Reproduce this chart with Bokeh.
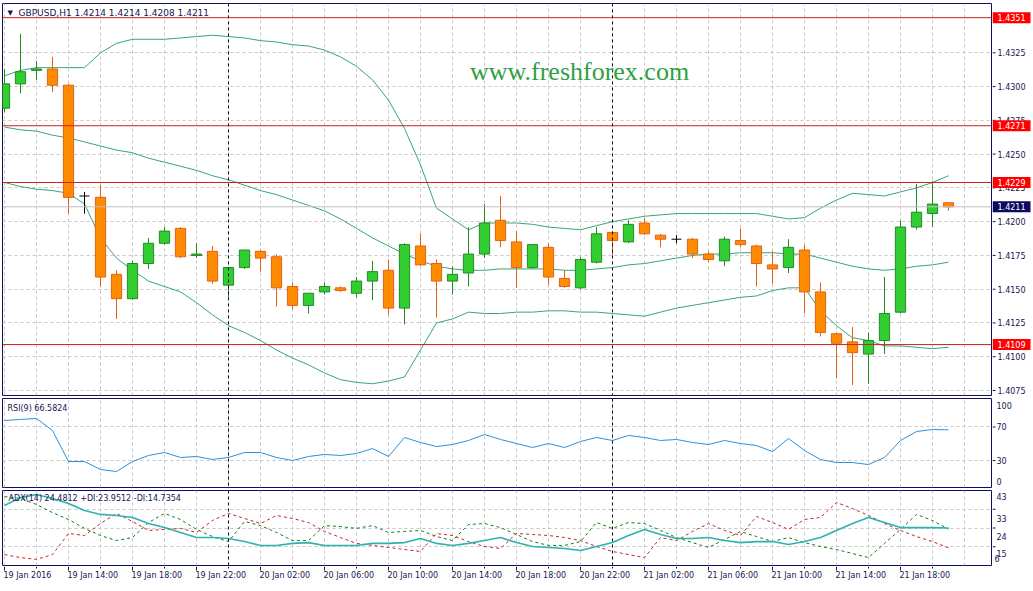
from bokeh.plotting import figure
from bokeh.models import Range1d, FixedTicker, Span, Label, ColumnDataSource
from bokeh.layouts import column, row
from bokeh.embed import file_html
from bokeh.resources import INLINE
from bokeh.core.properties import value

# ---------------- data ----------------
opens = [1.4284, 1.4302, 1.4312, 1.4313, 1.4301, 1.4219, 1.4218, 1.4161, 1.4143, 1.4169,
         1.4184, 1.4195, 1.4175, 1.4178, 1.4153, 1.4166, 1.4178, 1.4174, 1.4152, 1.4138,
         1.4148, 1.4151, 1.4147, 1.4156, 1.4164, 1.4136, 1.4182, 1.4169, 1.4156, 1.4162,
         1.4176, 1.4201, 1.4185, 1.4166, 1.4181, 1.4158, 1.4151, 1.4170, 1.4192, 1.4185,
         1.4199, 1.4190, 1.4187, 1.4187, 1.4176, 1.4171, 1.4186, 1.4182, 1.4168, 1.4166,
         1.4179, 1.4148, 1.4117, 1.4111, 1.4102, 1.4112, 1.4133, 1.4196, 1.4206, 1.4214]
highs = [1.4313, 1.4339, 1.4319, 1.4322, 1.4302, 1.4222, 1.4227, 1.4164, 1.4171, 1.4188,
         1.4196, 1.4196, 1.4184, 1.4182, 1.4166, 1.4179, 1.4179, 1.4176, 1.4155, 1.4147,
         1.4155, 1.4152, 1.4159, 1.4171, 1.4172, 1.4184, 1.4191, 1.4172, 1.4167, 1.4196,
         1.4213, 1.4219, 1.4193, 1.4183, 1.4184, 1.4164, 1.4174, 1.4196, 1.4193, 1.4201,
         1.4203, 1.4191, 1.4190, 1.4188, 1.4178, 1.4189, 1.4195, 1.4183, 1.4178, 1.4187,
         1.4183, 1.4155, 1.4118, 1.4122, 1.4118, 1.4159, 1.4201, 1.4228, 1.4230, 1.4214]
lows = [1.4281, 1.4295, 1.4305, 1.4296, 1.4206, 1.4206, 1.4152, 1.4128, 1.4142, 1.4165,
        1.4183, 1.4173, 1.4173, 1.4154, 1.4142, 1.4165, 1.4163, 1.4137, 1.4135, 1.4132,
        1.4146, 1.4148, 1.4144, 1.4142, 1.4131, 1.4124, 1.4167, 1.4129, 1.4146, 1.4152,
        1.4173, 1.4181, 1.4151, 1.4165, 1.4153, 1.4151, 1.4150, 1.4169, 1.4175, 1.4184,
        1.4190, 1.4181, 1.4184, 1.4173, 1.4170, 1.4167, 1.4181, 1.4152, 1.4154, 1.4162,
        1.4132, 1.4115, 1.4084, 1.4079, 1.4080, 1.4102, 1.4132, 1.4194, 1.4196, 1.4208]
closes = [1.4302, 1.4311, 1.4313, 1.4301, 1.4218, 1.4219, 1.4159, 1.4143, 1.4169, 1.4184,
          1.4193, 1.4174, 1.4176, 1.4156, 1.4166, 1.4179, 1.4173, 1.4151, 1.4138, 1.4147,
          1.4152, 1.4149, 1.4156, 1.4163, 1.4136, 1.4183, 1.4168, 1.4156, 1.4161, 1.4176,
          1.4199, 1.4186, 1.4166, 1.4183, 1.4159, 1.4152, 1.4172, 1.4191, 1.4186, 1.4198,
          1.4191, 1.4187, 1.4187, 1.4176, 1.4172, 1.4187, 1.4183, 1.4169, 1.4165, 1.4181,
          1.4148, 1.4118, 1.4110, 1.4103, 1.4112, 1.4132, 1.4196, 1.4207, 1.4213, 1.4211]

bb_upper = [1.4308, 1.4312, 1.4314, 1.4314, 1.4314, 1.4314, 1.4325, 1.4332, 1.4335, 1.4335,
            1.4335, 1.4336, 1.4337, 1.4338, 1.4337, 1.4336, 1.4334, 1.4333, 1.4331, 1.4330,
            1.4327, 1.4322, 1.4315, 1.4305, 1.4290, 1.4269, 1.4242, 1.4210, 1.4202, 1.4194,
            1.4199, 1.4199, 1.4199, 1.4198, 1.4196, 1.4195, 1.4194, 1.4197, 1.4200, 1.4202,
            1.4204, 1.4205, 1.4206, 1.4206, 1.4206, 1.4206, 1.4206, 1.4206, 1.4204, 1.4202,
            1.4203, 1.4210, 1.4216, 1.4221, 1.4220, 1.4219, 1.4222, 1.4225, 1.4229, 1.4234]
bb_middle = [1.4270, 1.4268, 1.4267, 1.4264, 1.4262, 1.4259, 1.4256, 1.4253, 1.4251, 1.4247,
             1.4244, 1.4241, 1.4238, 1.4234, 1.4231, 1.4227, 1.4223, 1.4220, 1.4216, 1.4212,
             1.4208, 1.4202, 1.4195, 1.4188, 1.4182, 1.4176, 1.4171, 1.4167, 1.4165, 1.4164,
             1.4164, 1.4165, 1.4165, 1.4165, 1.4165, 1.4164, 1.4164, 1.4165, 1.4166, 1.4168,
             1.4169, 1.4171, 1.4173, 1.4175, 1.4176, 1.4176, 1.4177, 1.4177, 1.4177, 1.4176,
             1.4176, 1.4173, 1.4170, 1.4167, 1.4165, 1.4164, 1.4165, 1.4167, 1.4168, 1.4170]
bb_lower = [1.4229, 1.4226, 1.4224, 1.4223, 1.4221, 1.4213, 1.4188, 1.4173, 1.4164, 1.4156,
            1.4152, 1.4148, 1.4140, 1.4131, 1.4123, 1.4118, 1.4112, 1.4105, 1.4099, 1.4094,
            1.4088, 1.4083, 1.4081, 1.4080, 1.4082, 1.4085, 1.4105, 1.4125, 1.4128, 1.4133,
            1.4132, 1.4132, 1.4133, 1.4133, 1.4134, 1.4134, 1.4133, 1.4133, 1.4132, 1.4131,
            1.4130, 1.4133, 1.4136, 1.4138, 1.4140, 1.4142, 1.4144, 1.4145, 1.4149, 1.4151,
            1.4151, 1.4134, 1.4123, 1.4114, 1.4112, 1.4108, 1.4108, 1.4107, 1.4106, 1.4107]

rsi = [77.8, 79.0, 80.1, 65.8, 28.8, 28.8, 19.3, 16.9, 28.8, 36.0,
       39.6, 33.6, 34.8, 31.2, 33.6, 39.6, 39.6, 33.6, 30.0, 34.8,
       37.2, 36.0, 38.4, 44.3, 34.8, 57.5, 51.5, 46.7, 49.1, 53.9,
       61.0, 55.1, 50.3, 45.5, 50.3, 45.5, 52.7, 57.5, 53.9, 59.9,
       57.5, 53.9, 55.1, 51.5, 49.1, 53.9, 50.3, 47.9, 40.7, 56.3,
       41.9, 31.2, 27.6, 27.6, 25.2, 33.6, 53.9, 64.6, 67.0, 66.58]

adx = [35.6, 39.5, 41.0, 39.1, 36.6, 33.1, 31.2, 30.7, 29.7, 26.7,
       24.7, 22.3, 19.8, 19.8, 19.3, 17.8, 15.9, 15.9, 16.9, 17.3,
       15.9, 15.9, 15.9, 16.9, 16.9, 17.3, 19.3, 16.9, 15.9, 16.9,
       18.3, 19.8, 17.3, 15.4, 14.9, 14.4, 13.4, 15.4, 17.3, 20.8,
       23.8, 21.3, 19.3, 19.3, 19.8, 18.3, 17.3, 17.8, 17.8, 16.4,
       17.8, 19.8, 23.3, 26.7, 29.7, 27.2, 24.7, 24.7, 24.7, 24.48]
plus_di = [40.0, 39.1, 36.1, 32.1, 28.7, 24.3, 20.8, 18.3, 19.8, 27.2,
           31.7, 28.7, 23.8, 20.3, 17.8, 27.7, 25.7, 22.3, 18.3, 18.3,
           25.7, 25.2, 24.3, 25.7, 22.3, 22.8, 23.3, 20.3, 18.3, 26.2,
           26.7, 24.7, 21.3, 17.8, 15.9, 15.9, 17.8, 27.2, 24.3, 27.2,
           26.7, 23.3, 19.8, 17.3, 14.9, 18.8, 22.8, 20.3, 17.8, 19.8,
           17.3, 15.4, 13.9, 11.9, 9.9, 16.9, 23.8, 31.2, 28.2, 23.95]
minus_di = [11.4, 9.9, 9.0, 11.4, 21.8, 20.8, 26.7, 31.7, 27.7, 23.3,
            23.8, 24.3, 22.3, 28.2, 31.7, 29.2, 26.7, 30.7, 29.2, 27.2,
            22.8, 19.8, 16.9, 15.9, 14.9, 13.9, 12.9, 21.8, 20.8, 17.8,
            15.4, 14.4, 21.8, 21.3, 20.8, 19.8, 18.3, 15.4, 12.9, 11.4,
            9.9, 19.8, 18.3, 22.8, 26.7, 23.3, 20.8, 30.2, 27.2, 23.8,
            28.7, 29.7, 37.1, 34.1, 30.7, 26.7, 23.3, 20.3, 17.8, 14.74]

time_tick_bars = [0, 4, 8, 12, 16, 20, 24, 28, 32, 36, 40, 44, 48, 52, 56]
time_tick_labels = ["19 Jan 2016", "19 Jan 14:00", "19 Jan 18:00", "19 Jan 22:00",
                    "20 Jan 02:00", "20 Jan 06:00", "20 Jan 10:00", "20 Jan 14:00",
                    "20 Jan 18:00", "20 Jan 22:00", "21 Jan 02:00", "21 Jan 06:00",
                    "21 Jan 10:00", "21 Jan 14:00", "21 Jan 18:00"]
minor_tick_bars = [2, 6, 10, 14, 18, 22, 26, 30, 34, 38, 42, 46, 50, 54, 58]
grid_bars = list(range(0, 62, 2))
day_separator_bars = [14, 38]

price_ticks = [1.4075, 1.4100, 1.4125, 1.4150, 1.4175, 1.4200, 1.4225, 1.4250, 1.4275, 1.4300, 1.4325]
level_lines = [1.4351, 1.4271, 1.4229, 1.4109]
bid_price = 1.4211
rsi_ticks = [30, 70]
rsi_edge_labels = ["100", "0"]
adx_levels = [43, 33.75, 24.5, 15.25, 6]

main_header = "GBPUSD,H1  1.4214 1.4214 1.4208 1.4211"
rsi_header = "RSI(9) 66.5824"
adx_header = "ADX(14) 24.4812 +DI:23.9512 -DI:14.7354"
watermark = "www.freshforex.com"

# ---------------- styling / layout ----------------
FONT = "DejaVu Sans"
NAVY = "#0f0f5c"
TXT = "#16164f"
GRID = "#c6c6c6"
BULL_FILL = "#32cd32"
BULL_LINE = "#228b22"
BEAR_FILL = "#ff8c00"
BEAR_LINE = "#e2601a"
BAND = "#3aa574"
LEVEL_RED = "#cc1f1f"

CHART_W = 992          # left border 2 + frame 989 + right border 1
SIDE_W = 1033 - CHART_W
FRAME_W = CHART_W - 3
XR = Range1d(-0.125, 61.6875)


def x_at(px):
    return XR.start + px * (XR.end - XR.start) / FRAME_W


def y_at(yr, frame_h, px):
    return yr.end - px * (yr.end - yr.start) / frame_h


def panel(h, yr, top, bottom, yticks):
    p = figure(width=CHART_W, height=h, x_range=XR, y_range=yr, output_backend="svg",
               toolbar_location=None, x_axis_location=None, y_axis_location=None,
               min_border_left=2, min_border_right=1, min_border_top=top,
               min_border_bottom=bottom, background_fill_color="white",
               border_fill_color="white", outline_line_color=NAVY, outline_line_width=1)
    p.xgrid.ticker = FixedTicker(ticks=grid_bars)
    p.ygrid.ticker = FixedTicker(ticks=yticks)
    for g in (p.xgrid, p.ygrid):
        g.grid_line_color = GRID
        g.grid_line_dash = "3 3"
        g.grid_line_width = 1
    for b in day_separator_bars:
        p.add_layout(Span(location=b, dimension="height", line_color="#111111",
                          line_dash="3 3", line_width=1))
    return p


def side(h, yr, top, bottom):
    s = figure(width=SIDE_W, height=h, x_range=Range1d(0, SIDE_W), y_range=yr,
               output_backend="svg", toolbar_location=None, x_axis_location=None,
               y_axis_location=None, min_border_left=0, min_border_right=0,
               min_border_top=top, min_border_bottom=bottom, outline_line_color=None,
               background_fill_color="white", border_fill_color="white")
    s.grid.visible = False
    return s


def side_text(s, ys, texts, color=TXT, x=5):
    s.text(x=[x] * len(ys), y=ys, text=texts, text_align="left", text_baseline="middle",
           text_font=value(FONT), text_font_size="8px", text_color=color)


def side_ticks(s, ys):
    s.segment(x0=[0] * len(ys), y0=ys, x1=[3] * len(ys), y1=ys, line_color=NAVY, line_width=1)


N = len(opens)
bars = list(range(N))

# ---------------- main price panel ----------------
MAIN_H, MAIN_T, MAIN_B = 396, 3, 1
MAIN_FH = MAIN_H - MAIN_T - MAIN_B
yr_main = Range1d(1.40713, 1.43615)
pm = panel(MAIN_H, yr_main, MAIN_T, MAIN_B, price_ticks)

pm.add_layout(Label(x=x_at(577), y=y_at(yr_main, MAIN_FH, 68), text=watermark,
                    text_align="center", text_baseline="middle", text_font="Liberation Serif",
                    text_font_size="26px", text_color="#2ea043"))

pm.line(bars, bb_upper, line_color=BAND, line_width=1)
pm.line(bars, bb_middle, line_color=BAND, line_width=1)
pm.line(bars, bb_lower, line_color=BAND, line_width=1)

up = [i for i in bars if closes[i] > opens[i]]
dn = [i for i in bars if closes[i] < opens[i]]
dj = [i for i in bars if closes[i] == opens[i]]

src_up = ColumnDataSource(dict(x=up, o=[opens[i] for i in up], c=[closes[i] for i in up],
                               h=[highs[i] for i in up], l=[lows[i] for i in up]))
src_dn = ColumnDataSource(dict(x=dn, o=[opens[i] for i in dn], c=[closes[i] for i in dn],
                               h=[highs[i] for i in dn], l=[lows[i] for i in dn]))
src_dj = ColumnDataSource(dict(x=dj, x0=[i - 0.31 for i in dj], x1=[i + 0.31 for i in dj],
                               o=[opens[i] for i in dj], h=[highs[i] for i in dj],
                               l=[lows[i] for i in dj]))

pm.segment(x0="x", y0="l", x1="x", y1="h", source=src_up, line_color=BULL_LINE, line_width=1)
pm.segment(x0="x", y0="l", x1="x", y1="h", source=src_dn, line_color=BEAR_LINE, line_width=1)
pm.segment(x0="x", y0="l", x1="x", y1="h", source=src_dj, line_color="#000000", line_width=1)
pm.vbar(x="x", width=0.64, top="c", bottom="o", source=src_up, fill_color=BULL_FILL,
        line_color=BULL_LINE, line_width=1)
pm.vbar(x="x", width=0.64, top="o", bottom="c", source=src_dn, fill_color=BEAR_FILL,
        line_color=BEAR_LINE, line_width=1)
pm.segment(x0="x0", y0="o", x1="x1", y1="o", source=src_dj, line_color="#000000", line_width=1)

pm.add_layout(Span(location=bid_price, dimension="width", line_color="#c0c0c0", line_width=1))
for lvl in level_lines:
    pm.add_layout(Span(location=lvl, dimension="width", line_color=LEVEL_RED, line_width=1))

pm.add_layout(Label(x=x_at(5), y=y_at(yr_main, MAIN_FH, 9), text="\u25bc", text_align="left",
                    text_baseline="middle", text_font=FONT, text_font_size="7px", text_color=TXT))
pm.add_layout(Label(x=x_at(16), y=y_at(yr_main, MAIN_FH, 9), text=main_header, text_align="left",
                    text_baseline="middle", text_font=FONT, text_font_size="9px", text_color=TXT))

sm = side(MAIN_H, yr_main, MAIN_T, MAIN_B)
side_ticks(sm, price_ticks)
side_text(sm, price_ticks, [f"{t:.4f}" for t in price_ticks])
sm.rect(x=[19] * len(level_lines), y=level_lines, width=38, height=11, height_units="screen",
        fill_color="#ff0000", line_color=None)
side_text(sm, level_lines, [f"{v:.4f}" for v in level_lines], color="white")
sm.rect(x=[19], y=[bid_price], width=38, height=11, height_units="screen",
        fill_color="#0a0a5e", line_color=None)
side_text(sm, [bid_price], [f"{bid_price:.4f}"], color="white")

# ---------------- RSI panel ----------------
RSI_H, RSI_T, RSI_B = 92, 2, 1
RSI_FH = RSI_H - RSI_T - RSI_B
yr_rsi = Range1d(-2.2, 104)
pr = panel(RSI_H, yr_rsi, RSI_T, RSI_B, rsi_ticks)
pr.line(bars, rsi, line_color="#2f8fd8", line_width=1)
pr.add_layout(Label(x=x_at(5), y=y_at(yr_rsi, RSI_FH, 10), text=rsi_header, text_align="left",
                    text_baseline="middle", text_font=FONT, text_font_size="8px", text_color=TXT))

sr = side(RSI_H, yr_rsi, RSI_T, RSI_B)
side_ticks(sr, rsi_ticks)
side_text(sr, rsi_ticks, [str(t) for t in rsi_ticks], x=4)
side_text(sr, [y_at(yr_rsi, RSI_FH, 7), y_at(yr_rsi, RSI_FH, 83)], rsi_edge_labels, x=4)

# ---------------- ADX panel ----------------
ADX_H, ADX_T, ADX_B = 78, 2, 1
ADX_FH = ADX_H - ADX_T - ADX_B
yr_adx = Range1d(adx_levels[-1], adx_levels[0])
pa = panel(ADX_H, yr_adx, ADX_T, ADX_B, adx_levels[1:-1])
pa.line(bars, plus_di, line_color="#157a15", line_width=1, line_dash="3 3")
pa.line(bars, minus_di, line_color="#cc2020", line_width=1, line_dash="3 3")
pa.line(bars, adx, line_color="#2bb3b0", line_width=1.6)
pa.add_layout(Label(x=x_at(6), y=y_at(yr_adx, ADX_FH, 8), text=adx_header, text_align="left",
                    text_baseline="middle", text_font=FONT, text_font_size="8px", text_color=TXT))

sa = side(ADX_H, yr_adx, ADX_T, ADX_B)
side_ticks(sa, adx_levels[1:-1])
side_text(sa, [y_at(yr_adx, ADX_FH, px) for px in [6, 28, 46, 63]],
          [str(int(v)) for v in adx_levels[:-1]], x=4)
side_text(sa, [y_at(yr_adx, ADX_FH, 68)], [str(int(adx_levels[-1]))], x=2)

# ---------------- time axis strip ----------------
STRIP_H = 1033 and 591 - MAIN_H - RSI_H - ADX_H
ps = figure(width=CHART_W + SIDE_W, height=STRIP_H, x_range=XR, y_range=Range1d(STRIP_H, 0),
            output_backend="svg", toolbar_location=None, x_axis_location=None,
            y_axis_location=None, min_border_left=2, min_border_right=1 + SIDE_W,
            min_border_top=0, min_border_bottom=0, outline_line_color=None,
            background_fill_color="white", border_fill_color="white")
ps.grid.visible = False
ps.segment(x0=time_tick_bars, y0=[0] * len(time_tick_bars), x1=time_tick_bars,
           y1=[4] * len(time_tick_bars), line_color=NAVY, line_width=1)
ps.segment(x0=minor_tick_bars, y0=[0] * len(minor_tick_bars), x1=minor_tick_bars,
           y1=[2] * len(minor_tick_bars), line_color=NAVY, line_width=1)
ps.text(x=time_tick_bars, y=[9] * len(time_tick_bars), text=time_tick_labels,
        text_align="left", text_baseline="middle", text_font=value(FONT),
        text_font_size="8px", text_color=TXT, x_offset=-1)

layout = column(row(pm, sm), row(pr, sr), row(pa, sa), ps)
open("out.html", "w").write(file_html(layout, INLINE))
